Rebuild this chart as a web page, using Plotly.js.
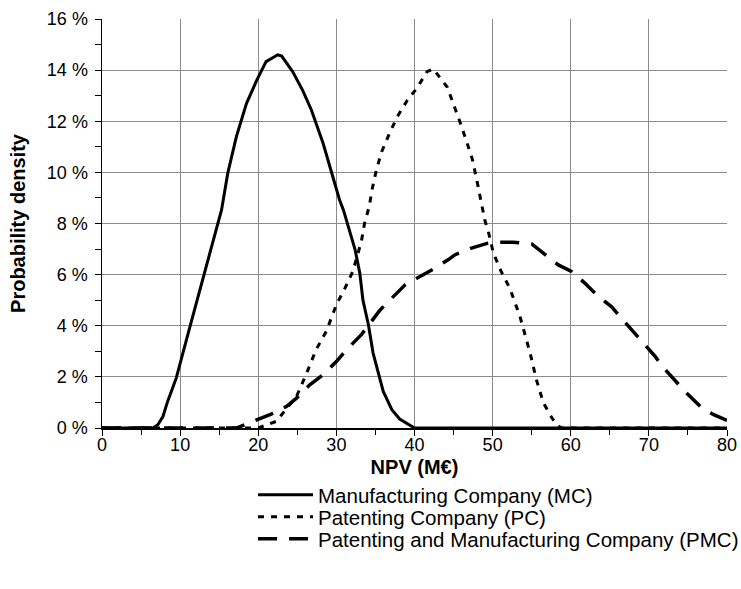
<!DOCTYPE html>
<html>
<head>
<meta charset="utf-8">
<script src="https://cdn.plot.ly/plotly-3.0.1.min.js"></script>
<style>html,body{margin:0;padding:0;background:#fff;}#chart{width:741px;height:589px;}</style>
</head>
<body>
<div id="chart"></div>
<script>
// NPV (M€) and probability density (%)
const mcX = [0, 3, 6.5, 7.15, 7.8, 8.4, 9.5, 11.2, 13.1, 15.3, 16.1, 17.2, 18.5, 19.8, 21.0, 22.5, 23.0, 24.4, 25.7, 26.8, 28.3, 30.4, 30.9, 32.4, 33.0, 33.4, 34.1, 34.7, 36.0, 37.1, 38.1, 40.0, 50, 60, 70, 80];
const mcY = [0, 0, 0, 0.13, 0.45, 1.04, 1.95, 3.9, 6.06, 8.53, 9.97, 11.4, 12.7, 13.6, 14.33, 14.6, 14.55, 13.94, 13.2, 12.44, 11.14, 8.93, 8.53, 6.97, 6.06, 5.0, 4.04, 2.93, 1.43, 0.72, 0.35, 0, 0, 0, 0, 0];

const pcX = [0, 10, 20.0, 22.3, 24.9, 26.2, 27.4, 28.7, 30.0, 31.1, 32.1, 33.2, 33.6, 34.2, 34.6, 35.1, 35.8, 36.8, 37.8, 39.1, 40.3, 41.6, 42.4, 44.2, 45.0, 45.8, 46.6, 47.4, 48.1, 48.6, 49.0, 49.4, 50.1, 51.1, 52.2, 53.5, 54.8, 55.6, 56.5, 57.6, 58.2, 58.8, 70, 80];
const pcY = [0, 0, 0, 0.26, 1.24, 2.15, 3.06, 3.78, 4.82, 5.47, 6.12, 7.3, 8.0, 8.66, 9.37, 10.07, 10.81, 11.53, 12.18, 12.83, 13.29, 13.94, 14.05, 13.33, 12.68, 11.99, 11.27, 10.52, 9.51, 8.8, 8.13, 7.75, 6.84, 6.12, 5.47, 4.36, 2.93, 1.89, 0.98, 0.39, 0.13, 0, 0, 0];

const pmcX = [0, 8, 17.2, 19.8, 21.5, 23.6, 24.9, 26.6, 28.3, 30.0, 31.3, 33.2, 34.3, 35.6, 37.1, 38.8, 40.3, 42.6, 44.3, 45.2, 47.3, 49.4, 50.5, 52.6, 55.0, 56.5, 58.4, 60.1, 61.8, 63.3, 65.2, 66.3, 68.0, 69.3, 70.8, 71.9, 73.6, 74.8, 76.8, 78.3, 80.0];
const pmcY = [0, 0, 0, 0.32, 0.52, 0.84, 1.17, 1.69, 2.08, 2.6, 3.06, 3.65, 4.1, 4.62, 5.08, 5.6, 5.86, 6.25, 6.58, 6.78, 7.04, 7.23, 7.27, 7.27, 7.2, 6.84, 6.38, 6.12, 5.67, 5.21, 4.75, 4.36, 3.78, 3.32, 2.8, 2.35, 1.76, 1.37, 0.78, 0.52, 0.3];

const seriesNames = ["Manufacturing Company (MC)", "Patenting Company (PC)", "Patenting and Manufacturing Company (PMC)"];

const FONT = "Liberation Sans, Arial, Helvetica, sans-serif";

const traces = [
  {x: mcX, y: mcY, name: seriesNames[0], type: "scatter", mode: "lines", legend: "legend",
   line: {color: "#000", width: 3, dash: "solid"}},
  {x: pcX, y: pcY, name: seriesNames[1], type: "scatter", mode: "lines", legend: "legend2",
   line: {color: "#000", width: 3, dash: "6px,7px"}},
  {x: pmcX, y: pmcY, name: seriesNames[2], type: "scatter", mode: "lines", legend: "legend3",
   line: {color: "#000", width: 3.5, dash: "19px,12px"}}
];

function legendAt(yPaper) {
  return {
    x: 0.2416, y: yPaper, xanchor: "left", yanchor: "middle",
    bgcolor: "rgba(0,0,0,0)", borderwidth: 0,
    font: {family: FONT, size: 20.5, color: "#000"},
    itemwidth: 55
  };
}

const layout = {
  width: 741, height: 589,
  margin: {l: 102, r: 14, t: 19, b: 161, autoexpand: false},
  paper_bgcolor: "#fff", plot_bgcolor: "#fff",
  font: {family: FONT, size: 18, color: "#000"},
  showlegend: true,
  legend: legendAt(-0.1638),
  legend2: legendAt(-0.2176),
  legend3: legendAt(-0.2714),
  xaxis: {
    range: [0, 80], dtick: 10, tick0: 0,
    showgrid: true, gridcolor: "#8c8c8c", gridwidth: 1,
    zeroline: false, showline: true, linecolor: "#000", linewidth: 1.5,
    ticks: "outside", ticklen: 6, tickcolor: "#000", tickwidth: 1,
    minor: {dtick: 5, ticks: "outside", ticklen: 5, tickcolor: "#000", showgrid: false},
    ticklabelstandoff: -6,
    tickfont: {family: FONT, size: 18, color: "#000"},
    title: {text: "NPV (M€)", font: {family: FONT, size: 20, color: "#000", weight: "bold"}, standoff: 6},
    fixedrange: true
  },
  yaxis: {
    range: [0, 16], dtick: 2, tick0: 0, ticksuffix: " %",
    showgrid: true, gridcolor: "#8c8c8c", gridwidth: 1,
    zeroline: false, showline: true, linecolor: "#000", linewidth: 1.5,
    ticks: "outside", ticklen: 6, tickcolor: "#000", tickwidth: 1,
    minor: {dtick: 1, ticks: "outside", ticklen: 6, tickcolor: "#000", showgrid: false},
    ticklabelstandoff: 3,
    tickfont: {family: FONT, size: 18, color: "#000"},
    title: {text: "Probability density", font: {family: FONT, size: 20, color: "#000", weight: "bold"}, standoff: 16},
    fixedrange: true
  },
  yaxis2: {
    overlaying: "y", anchor: "x", side: "left", range: [0, 16], dtick: 2, tick0: 0,
    ticks: "inside", ticklen: 6, tickcolor: "#000", tickwidth: 1,
    showticklabels: false, showgrid: false, zeroline: false, showline: false,
    fixedrange: true
  }
};

Plotly.newPlot("chart", traces, layout, {staticPlot: true, displayModeBar: false});
</script>
</body>
</html>
